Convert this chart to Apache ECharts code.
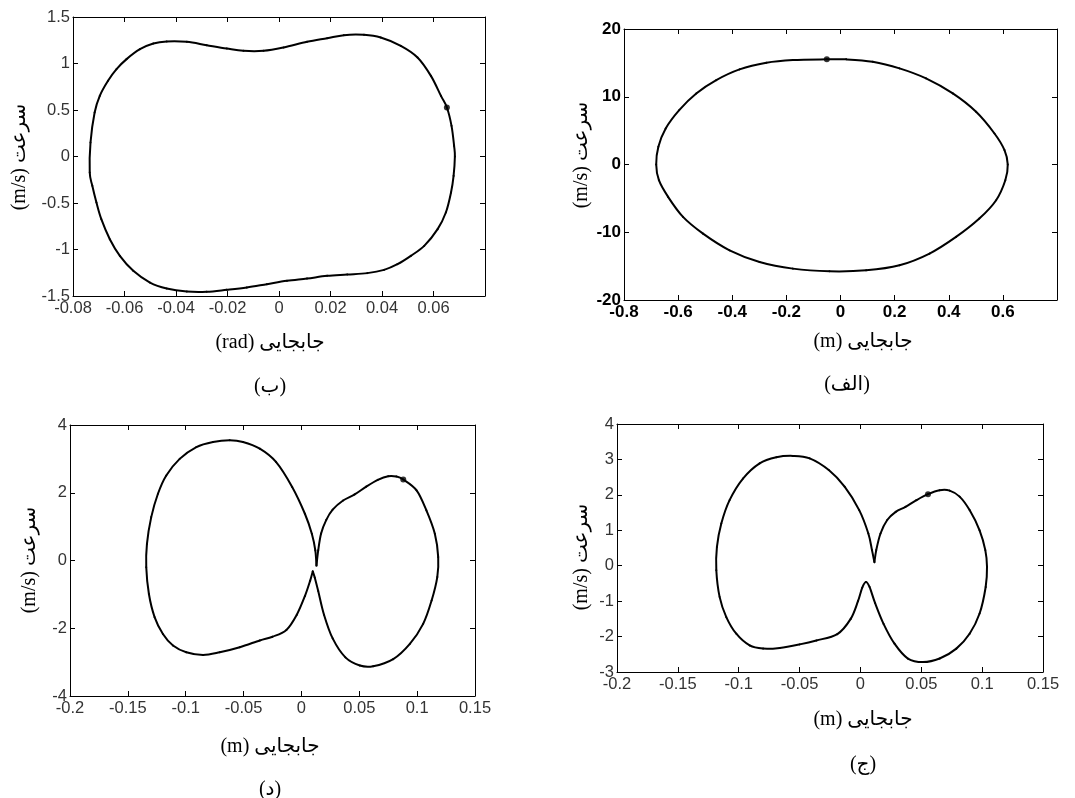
<!DOCTYPE html>
<html>
<head>
<meta charset="utf-8">
<script src="https://cdn.jsdelivr.net/npm/echarts@6/dist/echarts.min.js"></script>
<style>
  html, body { margin: 0; padding: 0; background: #fff; }
  #chart { width: 1075px; height: 798px; }
</style>
</head>
<body>
<div id="chart"></div>
<script>
// Phase portraits: displacement (x) vs velocity (v), as [x, v] pairs.

// (ب) angular displacement in rad — closed orbit
const orbitB = [
  [-0.0735, -0.172], [-0.0732, 0.151], [-0.0716, 0.473], [-0.0696, 0.652], [-0.0664, 0.814],
  [-0.0631, 0.939], [-0.0592, 1.047], [-0.054, 1.154], [-0.0488, 1.215], [-0.0436, 1.237],
  [-0.0358, 1.233], [-0.0281, 1.197], [-0.0203, 1.161], [-0.0138, 1.136], [-0.006, 1.136],
  [0.0018, 1.172], [0.0109, 1.233], [0.0187, 1.272], [0.0252, 1.305], [0.033, 1.308],
  [0.0395, 1.28], [0.0473, 1.19], [0.0538, 1.065], [0.059, 0.867], [0.0629, 0.652],
  [0.0652, 0.527], [0.067, 0.33], [0.068, 0.115], [0.0683, 0], [0.0678, -0.208],
  [0.0668, -0.387], [0.0648, -0.602], [0.0616, -0.781], [0.0564, -0.961], [0.0512, -1.068],
  [0.046, -1.158], [0.0408, -1.219], [0.0343, -1.254], [0.0265, -1.269], [0.0187, -1.283],
  [0.0109, -1.312], [0.0031, -1.337], [-0.0047, -1.373], [-0.0125, -1.409], [-0.0203, -1.434],
  [-0.0281, -1.455], [-0.0358, -1.452], [-0.0436, -1.419], [-0.0501, -1.355], [-0.0566, -1.229],
  [-0.0618, -1.068], [-0.0657, -0.889], [-0.069, -0.674], [-0.0709, -0.495], [-0.0725, -0.315]
];
const markB = [[0.0652, 0.527]];

// (الف) linear displacement in m — closed orbit
const orbitA = [
  [-0.681, 0], [-0.673, 2.61], [-0.646, 5.32], [-0.596, 8.03], [-0.533, 10.49],
  [-0.459, 12.46], [-0.373, 14.04], [-0.274, 15.02], [-0.176, 15.42], [-0.0505, 15.52],
  [0.021, 15.52], [0.119, 15.17], [0.218, 14.19], [0.316, 12.71], [0.415, 10.49],
  [0.501, 7.78], [0.569, 4.58], [0.606, 2.12], [0.618, 0], [0.609, -2.32],
  [0.575, -5.27], [0.513, -7.98], [0.427, -10.69], [0.329, -13.15], [0.218, -14.88],
  [0.095, -15.62], [-0.041, -15.76], [-0.176, -15.37], [-0.299, -14.38], [-0.41, -12.66],
  [-0.508, -10.2], [-0.582, -7.73], [-0.637, -4.78], [-0.671, -2.32]
];
const markA = [[-0.0505, 15.52]];

// (د) two lobes joined at two sharp cusps near x = 0.01
const lobeD_right = [
  [0.013, -0.15], [0.0145, 0.3], [0.017, 0.8], [0.0215, 1.2], [0.027, 1.5],
  [0.036, 1.77], [0.046, 1.95], [0.056, 2.18], [0.066, 2.38], [0.075, 2.49],
  [0.082, 2.48], [0.088, 2.39], [0.0995, 2.07], [0.108, 1.48], [0.1153, 0.79],
  [0.1182, 0.1], [0.1174, -0.49], [0.1125, -1.18], [0.1052, -1.87], [0.0937, -2.46],
  [0.0793, -2.91], [0.062, -3.12], [0.0505, -3.1], [0.038, -2.86], [0.027, -2.3],
  [0.0195, -1.6], [0.0145, -0.9], [0.0115, -0.5], [0.0098, -0.32]
];
const lobeD_left = [
  [0.0098, -0.32], [0.0075, -0.6], [0.003, -1.05], [-0.004, -1.6], [-0.013, -2.05],
  [-0.025, -2.25], [-0.036, -2.36], [-0.0533, -2.56], [-0.0706, -2.71], [-0.085, -2.79],
  [-0.0995, -2.71], [-0.111, -2.51], [-0.1197, -2.17], [-0.1269, -1.67], [-0.1318, -0.99],
  [-0.1341, -0.2], [-0.1335, 0.49], [-0.1298, 1.28], [-0.124, 1.97], [-0.1168, 2.51],
  [-0.1052, 3.0], [-0.0908, 3.35], [-0.0764, 3.5], [-0.062, 3.55], [-0.0505, 3.5],
  [-0.036, 3.3], [-0.022, 2.91], [-0.008, 2.17], [0.003, 1.38], [0.009, 0.79],
  [0.012, 0.3], [0.013, -0.15]
];
const markD = [[0.088, 2.39]];

// (ج) right lobe, rounded lower turn, then left lobe back to the upper cusp
const lobeC_right = [
  [0.0115, 0.1], [0.013, 0.44], [0.0165, 0.91], [0.022, 1.29], [0.029, 1.52],
  [0.037, 1.66], [0.046, 1.85], [0.0555, 2.02], [0.0651, 2.13], [0.0733, 2.12],
  [0.0815, 1.95], [0.0897, 1.57], [0.0979, 1.0], [0.1026, 0.44], [0.104, -0.03],
  [0.1029, -0.6], [0.0979, -1.35], [0.0897, -1.92], [0.0788, -2.34], [0.0651, -2.62],
  [0.0514, -2.72], [0.039, -2.62], [0.028, -2.2], [0.019, -1.64], [0.012, -1.05],
  [0.0075, -0.6]
];
const lobeC_left = [
  [0.0045, -0.46], [0.0015, -0.62], [-0.002, -1.0], [-0.008, -1.5], [-0.019, -1.93],
  [-0.0362, -2.11], [-0.0499, -2.22], [-0.0663, -2.32], [-0.08, -2.34], [-0.091, -2.25],
  [-0.102, -1.92], [-0.1102, -1.45], [-0.1157, -0.88], [-0.1184, -0.13], [-0.1179, 0.53],
  [-0.1143, 1.19], [-0.1075, 1.85], [-0.0965, 2.46], [-0.0828, 2.89], [-0.0691, 3.06],
  [-0.0554, 3.1], [-0.0417, 3.03], [-0.026, 2.7], [-0.013, 2.23], [-0.001, 1.57],
  [0.0065, 0.91], [0.0095, 0.44], [0.0115, 0.1]
];
const markC = [[0.0555, 2.02]];

// Axis titles and panel captions
const xTitleRad = '(rad) جابجایی';
const xTitleM = '(m) جابجایی';
const yTitle = '(m/s) سرعت';
const captions = ['(ب)', '(الف)', '(د)', '(ج)'];

// Panel layout (plot rectangles, axis ranges, label styling)
const panels = [
  { grid: { left: 73, top: 17, width: 412, height: 279 },
    x: [-0.08, 0.08, 0.02], y: [-1.5, 1.5, 0.5], hideMaxX: true,
    font: 16.5, color: '#333', weight: 'normal' },
  { grid: { left: 624, top: 29, width: 433, height: 271 },
    x: [-0.8, 0.8, 0.2], y: [-20, 20, 10], hideMaxX: true,
    font: 17, color: '#000', weight: 'bold' },
  { grid: { left: 70, top: 425, width: 405, height: 271 },
    x: [-0.2, 0.15, 0.05], y: [-4, 4, 2], hideMaxX: false,
    font: 16.5, color: '#333', weight: 'normal' },
  { grid: { left: 617, top: 424, width: 426, height: 248 },
    x: [-0.2, 0.15, 0.05], y: [-3, 4, 1], hideMaxX: false,
    font: 16.5, color: '#333', weight: 'normal' }
];

const tickFont = "'Liberation Sans', Arial, sans-serif";
const titleFont = "'Liberation Serif', 'Times New Roman', 'DejaVu Sans', serif";

const grids = [], xAxes = [], yAxes = [], series = [];

panels.forEach((p, i) => {
  grids.push(Object.assign({ containLabel: false }, p.grid));
  const axisLine = { show: true, onZero: false, lineStyle: { color: '#000', width: 1 } };
  const axisTick = { show: true, inside: true, length: 5, lineStyle: { color: '#000', width: 1 } };
  const label = { color: p.color, fontSize: p.font, fontFamily: tickFont, fontWeight: p.weight };
  const xBase = { type: 'value', gridIndex: i, min: p.x[0], max: p.x[1], interval: p.x[2],
    splitLine: { show: false }, axisLine, axisTick };
  const yBase = { type: 'value', gridIndex: i, min: p.y[0], max: p.y[1], interval: p.y[2],
    splitLine: { show: false }, axisLine, axisTick };
  xAxes.push(Object.assign({}, xBase, { position: 'bottom',
    axisLabel: Object.assign({ margin: 4, showMaxLabel: !p.hideMaxX }, label) }));
  xAxes.push(Object.assign({}, xBase, { position: 'top', axisLabel: { show: false } }));
  yAxes.push(Object.assign({}, yBase, { position: 'left',
    axisLabel: Object.assign({ margin: 3 }, label) }));
  yAxes.push(Object.assign({}, yBase, { position: 'right', axisLabel: { show: false } }));
});

// Each data point draws the cubic segment to the next one (Catmull-Rom tangents),
// with pixel positions taken from the axes through api.coord.
function trajectory(panel, points, closed) {
  const n = points.length;
  series.push({
    type: 'custom', xAxisIndex: panel * 2, yAxisIndex: panel * 2,
    data: points, encode: { x: 0, y: 1 }, silent: true, clip: true,
    renderItem(params, api) {
      const i = params.dataIndex;
      if (!closed && i >= n - 1) return null;
      const at = k => api.coord(points[closed ? (k + n) % n : Math.max(0, Math.min(n - 1, k))]);
      const p0 = at(i - 1), p1 = at(i), p2 = at(i + 1), p3 = at(i + 2);
      return {
        type: 'bezierCurve',
        shape: {
          x1: p1[0], y1: p1[1], x2: p2[0], y2: p2[1],
          cpx1: p1[0] + (p2[0] - p0[0]) / 6, cpy1: p1[1] + (p2[1] - p0[1]) / 6,
          cpx2: p2[0] - (p3[0] - p1[0]) / 6, cpy2: p2[1] - (p3[1] - p1[1]) / 6
        },
        style: { stroke: '#000', lineWidth: 2, fill: null, lineCap: 'round' }
      };
    }
  });
}
function dot(panel, data) {
  series.push({
    type: 'scatter', xAxisIndex: panel * 2, yAxisIndex: panel * 2, data,
    symbolSize: 6, itemStyle: { color: '#000' }, silent: true, z: 5
  });
}

trajectory(0, orbitB, true); dot(0, markB);
trajectory(1, orbitA, true); dot(1, markA);
trajectory(2, lobeD_right, false); trajectory(2, lobeD_left, false); dot(2, markD);
trajectory(3, lobeC_right.concat(lobeC_left), false); dot(3, markC);

// Titles placed around each plot
const titleStyle = { fill: '#000', font: "20px " + titleFont, textAlign: 'center', textVerticalAlign: 'middle' };
function text(str, x, y, rot) {
  return { type: 'text', x, y, rotation: rot || 0, silent: true,
    style: Object.assign({ text: str }, titleStyle) };
}
const graphic = [
  text(xTitleRad, 270, 343), text(yTitle, 20, 157, Math.PI / 2), text(captions[0], 270, 387),
  text(xTitleM, 863, 342), text(yTitle, 582, 155, Math.PI / 2), text(captions[1], 847, 385),
  text(xTitleM, 270, 747), text(yTitle, 30, 560, Math.PI / 2), text(captions[2], 270, 790),
  text(xTitleM, 863, 720), text(yTitle, 582, 557, Math.PI / 2), text(captions[3], 863, 765)
];

const chart = echarts.init(document.getElementById('chart'), null, { renderer: 'canvas' });
chart.setOption({
  animation: false,
  backgroundColor: '#fff',
  grid: grids,
  xAxis: xAxes,
  yAxis: yAxes,
  series,
  graphic
});
</script>
</body>
</html>
